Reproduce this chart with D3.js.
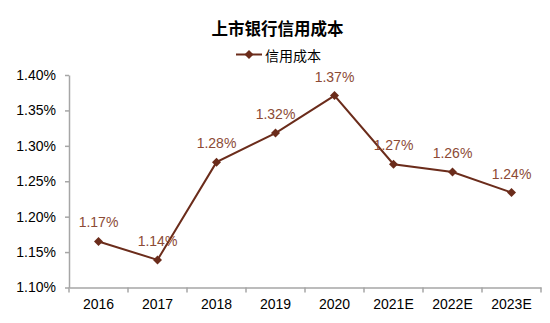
<!DOCTYPE html>
<html><head><meta charset="utf-8">
<script src="https://cdn.jsdelivr.net/npm/d3@7"></script>
<style>body{margin:0;background:#fff;} text{font-family:"Liberation Sans",Arial,sans-serif;}</style>
</head><body>
<svg id="c" width="550" height="323"></svg>
<script>
const title = "上市银行信用成本";
const seriesName = "信用成本";
const categories = ["2016","2017","2018","2019","2020","2021E","2022E","2023E"];
const values = [1.165, 1.139, 1.277, 1.318, 1.371, 1.274, 1.263, 1.234];
const valueLabels = ["1.17%","1.14%","1.28%","1.32%","1.37%","1.27%","1.26%","1.24%"];
const yTicks = [1.10, 1.15, 1.20, 1.25, 1.30, 1.35, 1.40];

const svg = d3.select("#c");
const lineColor = "#6b2c1b", labelColor = "#8b4a35", axisColor = "#a6a6a6";
const x = d3.scaleBand().domain(categories).range([69, 541]);
const y = d3.scaleLinear().domain([1.10, 1.40]).range([287.5, 75]);
const diamond = "M0,-4.5L4.5,0L0,4.5L-4.5,0Z";

svg.append("text").attr("x", 277.5).attr("y", 28).attr("text-anchor","middle")
  .attr("dominant-baseline","central").attr("font-size",16.5).attr("font-weight","bold")
  .style("font-family","'Noto Sans CJK SC',sans-serif").attr("fill","#000").text(title);

// legend
const lg = svg.append("g");
lg.append("line").attr("x1",236).attr("x2",262).attr("y1",54.5).attr("y2",54.5)
  .attr("stroke",lineColor).attr("stroke-width",2);
lg.append("path").attr("d", diamond).attr("transform","translate(249,54.5)").attr("fill",lineColor);
lg.append("text").attr("x",265).attr("y",54.5).attr("dominant-baseline","central")
  .attr("font-size",14).style("font-family","'Noto Sans CJK SC',sans-serif").attr("fill","#000").text(seriesName);

// y axis
const yAxis = d3.axisLeft(y).tickValues(yTicks).tickFormat(d => d.toFixed(2) + "%").tickSizeInner(4).tickSizeOuter(0).tickPadding(9);
const gy = svg.append("g").attr("transform","translate(69,0)").call(yAxis);
gy.select(".domain").attr("stroke",axisColor).attr("stroke-width",1.5);
gy.selectAll(".tick line").attr("stroke",axisColor).attr("stroke-width",1.5);
gy.selectAll(".tick text").attr("font-size",14).attr("fill","#000").style("font-family","'Liberation Sans',Arial,sans-serif");

// x axis
const xAxis = d3.axisBottom(x).tickSize(0).tickPadding(12);
const gx = svg.append("g").attr("transform","translate(0,287.5)").call(xAxis);
gx.select(".domain").attr("stroke",axisColor).attr("stroke-width",1.5);
gx.selectAll(".tick text").attr("font-size",14).attr("fill","#000").style("font-family","'Liberation Sans',Arial,sans-serif");
const bounds = categories.map(c => x(c)).concat([x.range()[1]]);
gx.selectAll(".btick").data(bounds).enter().append("line").attr("class","btick")
  .attr("x1",d=>d).attr("x2",d=>d).attr("y1",0).attr("y2",5).attr("stroke",axisColor).attr("stroke-width",1.5);

const cx = c => x(c) + x.bandwidth()/2;
const line = d3.line().x((d,i)=>cx(categories[i])).y(d=>y(d));
svg.append("path").datum(values).attr("d",line).attr("fill","none").attr("stroke",lineColor).attr("stroke-width",2);
svg.selectAll(".pt").data(values).enter().append("path").attr("class","pt")
  .attr("d", diamond)
  .attr("transform",(d,i)=>`translate(${cx(categories[i])},${y(d)})`).attr("fill",lineColor);
svg.selectAll(".lbl").data(values).enter().append("text").attr("class","lbl")
  .attr("x",(d,i)=>cx(categories[i])).attr("y",d=>y(d)-19).attr("text-anchor","middle")
  .attr("dominant-baseline","central").attr("font-size",14).attr("fill",labelColor)
  .text((d,i)=>valueLabels[i]);
</script>
</body></html>
